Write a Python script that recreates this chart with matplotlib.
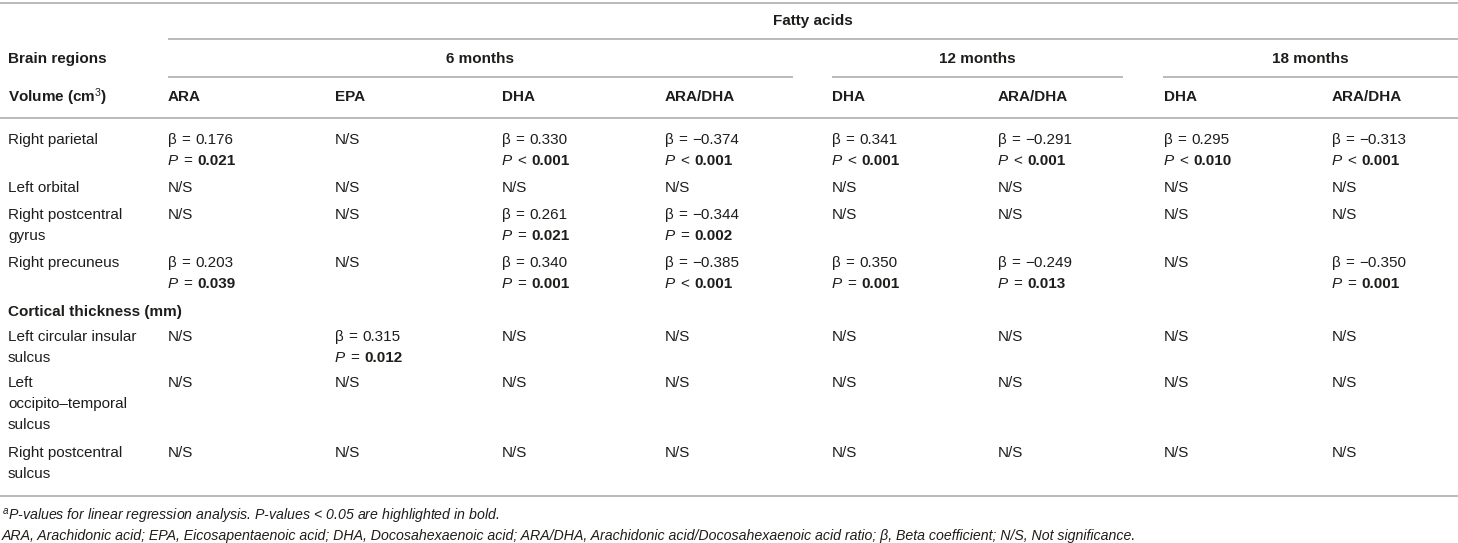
import matplotlib.pyplot as plt

plt.rcParams['font.family'] = ['Liberation Sans', 'DejaVu Sans']
plt.rcParams['mathtext.fontset'] = 'custom'
plt.rcParams['mathtext.rm'] = 'Liberation Sans'
plt.rcParams['mathtext.it'] = 'Liberation Sans:italic'
plt.rcParams['mathtext.bf'] = 'Liberation Sans:bold'

# table content
group_title = "Fatty acids"
months = ["6 months", "12 months", "18 months"]
columns = ["ARA", "EPA", "DHA", "ARA/DHA", "DHA", "ARA/DHA", "DHA", "ARA/DHA"]
volume_regions = ["Right parietal", "Left orbital", "Right postcentral\ngyrus",
                  "Right precuneus"]
thickness_regions = ["Left circular insular\nsulcus", "Left\noccipito\u2013temporal\nsulcus",
                     "Right postcentral\nsulcus"]

# one list per column: (beta, relation, p) or None for N/S
ara_6 = [("0.176", "=", "0.021"), None, None, ("0.203", "=", "0.039"), None, None, None]
epa_6 = [None, None, None, None, ("0.315", "=", "0.012"), None, None]
dha_6 = [("0.330", "<", "0.001"), None, ("0.261", "=", "0.021"), ("0.340", "=", "0.001"),
         None, None, None]
ratio_6 = [("\u22120.374", "<", "0.001"), None, ("\u22120.344", "=", "0.002"),
           ("\u22120.385", "<", "0.001"), None, None, None]
dha_12 = [("0.341", "<", "0.001"), None, None, ("0.350", "=", "0.001"), None, None, None]
ratio_12 = [("\u22120.291", "<", "0.001"), None, None, ("\u22120.249", "=", "0.013"),
            None, None, None]
dha_18 = [("0.295", "<", "0.010"), None, None, None, None, None, None]
ratio_18 = [("\u22120.313", "<", "0.001"), None, None, ("\u22120.350", "=", "0.001"),
            None, None, None]
cells = [ara_6, epa_6, dha_6, ratio_6, dha_12, ratio_12, dha_18, ratio_18]

footnote_a = "P-values for linear regression analysis. P-values < 0.05 are highlighted in bold."
footnote_b = ("ARA, Arachidonic acid; EPA, Eicosapentaenoic acid; DHA, Docosahexaenoic acid; "
              "ARA/DHA, Arachidonic acid/Docosahexaenoic acid ratio; \u03b2, Beta coefficient; "
              "N/S, Not significance.")

# layout (pixels)
TXT = '#1d1d1b'
LINE = '#b4b4b4'
FS = 11
col_x = [168, 335, 502, 665, 832, 998, 1164, 1332]
label_x = 8
month_span = [(168, 793), (832, 1123), (1163, 1458)]
line_gap = 21
row_top = [140, 188, 215, 263, 337, 383, 453]
section_y = 312

fig = plt.figure(figsize=(14.58, 5.43), dpi=100)
ax = fig.add_axes([0, 0, 1, 1])
ax.set_xlim(0, 1458)
ax.set_ylim(543, 0)
ax.axis('off')
renderer = fig.canvas.get_renderer()


def txt(x, y, s, **kw):
    kw.setdefault('fontsize', FS)
    kw.setdefault('color', TXT)
    return ax.text(x, y, s, va='center', ha=kw.pop('ha', 'left'), **kw)


def runs(x, y, parts, gap=4):
    # draw text pieces one after another on the same line
    for s, kw in parts:
        t = txt(x, y, s, **kw)
        x += t.get_window_extent(renderer=renderer).width + gap


def hline(y, x0=0, x1=1458):
    ax.plot([x0, x1], [y, y], color=LINE, lw=1.3, solid_capstyle='butt')


hline(3)
hline(39, 168, 1458)
for x0, x1 in month_span:
    hline(77, x0, x1)
hline(118)
hline(496)

txt((168 + 1458) / 2, 21, group_title, fontweight='bold', ha='center')
txt(label_x, 59, "Brain regions", fontweight='bold')
for (x0, x1), m in zip(month_span, months):
    txt((x0 + x1) / 2, 59, m, fontweight='bold', ha='center')
txt(label_x, 97, r"Volume (cm$^{3}$)", fontweight='bold')
for x, c in zip(col_x, columns):
    txt(x, 97, c, fontweight='bold')

regions = volume_regions + thickness_regions
for i, name in enumerate(regions):
    y0 = row_top[i]
    for k, part in enumerate(name.split("\n")):
        txt(label_x, y0 + k * line_gap, part)
    for x, col in zip(col_x, cells):
        v = col[i]
        if v is None:
            txt(x, y0, "N/S")
        else:
            beta, rel, p = v
            runs(x, y0, [("\u03b2", {}), ("=", {}), (beta, {})], gap=5)
            runs(x, y0 + line_gap, [("P", {'style': 'italic'}), (rel, {}),
                                     (p, {'fontweight': 'bold'})], gap=5)

txt(label_x, section_y, "Cortical thickness (mm)", fontweight='bold')

txt(2, 517, r"$^{\mathit{a}}$" + footnote_a, fontsize=10.15, style='italic')
txt(2, 536, footnote_b, fontsize=10.15, style='italic')

fig.savefig("out.png", dpi=100)
